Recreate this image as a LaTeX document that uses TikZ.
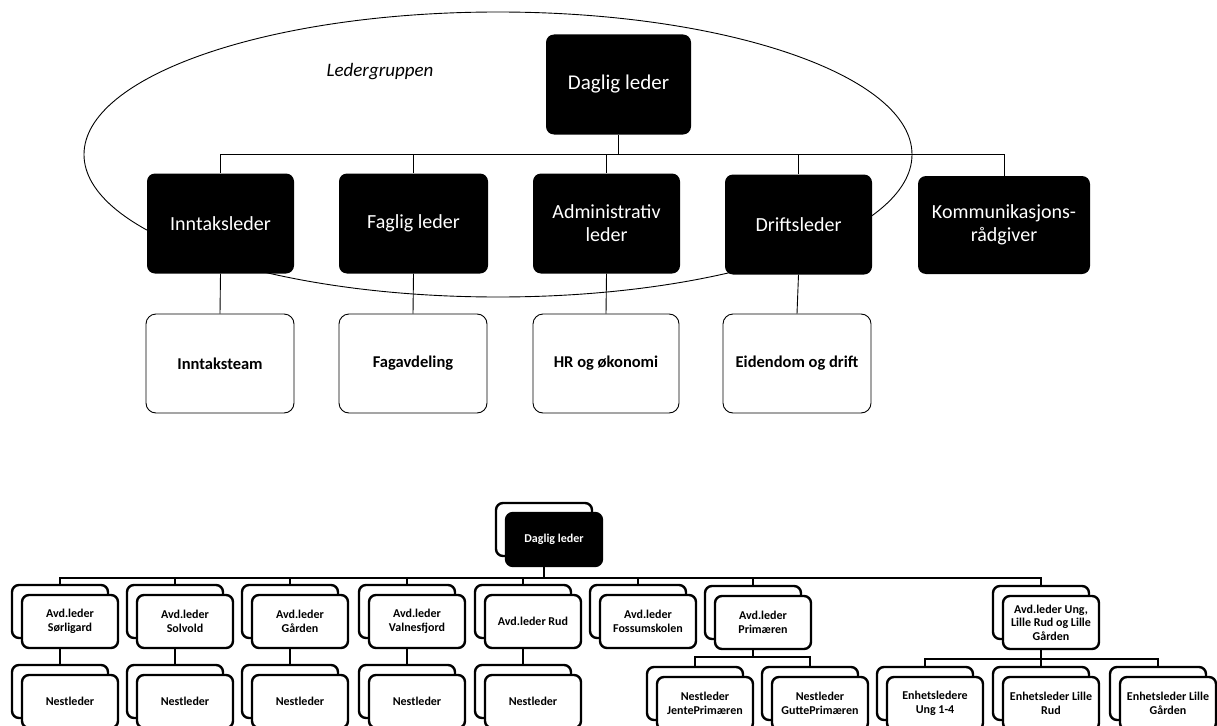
\documentclass[tikz,border=0pt]{standalone}
\usepackage{fontspec}
\setmainfont{Carlito}
\usetikzlibrary{backgrounds}
\begin{document}
\begin{tikzpicture}[x=1pt,y=-1pt,
  topbox/.style={fill=black, text=white, rounded corners=8pt, inner sep=0pt,
    minimum height=100pt, align=center, font=\fontsize{20}{23}\selectfont},
  subbox/.style={draw=black, line width=0.9pt, fill=white, rounded corners=10pt, inner sep=0pt,
    minimum width=148pt, minimum height=99pt, align=center, font=\fontsize{16.5}{19}\selectfont\bfseries},
  thin/.style={line width=0.9pt},
  thick/.style={line width=2.4pt},
  shb/.style={draw=black, line width=2.4pt, fill=white, rounded corners=7pt, inner sep=0pt,
    minimum width=96pt, minimum height=53pt},
  frb/.style={shb, align=center, font=\fontsize{12}{13.5}\selectfont\bfseries},
  frd/.style={frb, fill=black, text=white}
]
\useasboundingbox (0,0) rectangle (1217,725);

% ---------- top chart ----------
\node[topbox, minimum width=145pt, font=\fontsize{21}{24}\selectfont] (dl) at (618.5,84.5) {Daglig leder};
\node[topbox, minimum width=147pt] (in) at (220.5,223.5) {Inntaksleder};
\node[topbox, minimum width=149pt] (fa) at (413.5,223.5) {Faglig leder};
\node[topbox, minimum width=147pt] (ad) at (606.5,223.5) {Administrativ\\leder};
\node[topbox, minimum width=147pt] (dr) at (798.5,224.5) {Driftsleder};
\node[topbox, minimum width=172pt, minimum height=98pt] (ko) at (1004,225) {Kommunikasjons-\\rådgiver};

\node[subbox] (it) at (220,363.5) {Inntaksteam};
\node[subbox] (fv) at (413,363.5) {Fagavdeling};
\node[subbox, minimum width=146pt] (hr) at (606,363.5) {HR og økonomi};
\node[subbox] (ed) at (797,363.5) {Eidendom og drift};

\node[font=\fontsize{19}{22}\selectfont\itshape] (lg) at (380,72) {Ledergruppen};

\coordinate (tbus) at (0,154);

% ---------- bottom chart ----------
\node[shb] (sd) at (544,529.5) {};
\node[frd] (fd) at (554,539.5) {Daglig leder};

% level 1 shadows and fronts
\node[shb] (s1) at (60,611.5) {};
\node[frb] (a1) at (70,621.5) {Avd.leder\\Sørligard};
\node[shb] (s2) at (175,611.5) {};
\node[frb] (a2) at (185,621.5) {Avd.leder\\Solvold};
\node[shb] (s3) at (290,611.5) {};
\node[frb] (a3) at (300,621.5) {Avd.leder\\Gården};
\node[shb] (s4) at (407,611.5) {};
\node[frb] (a4) at (417,621.5) {Avd.leder\\Valnesfjord};
\node[shb] (s5) at (523,611.5) {};
\node[frb] (a5) at (533,621.5) {Avd.leder Rud};
\node[shb] (s6) at (638,611.5) {};
\node[frb] (a6) at (648,621.5) {Avd.leder\\Fossumskolen};
\node[shb] (s7) at (753,612.5) {};
\node[frb] (a7) at (763,622.5) {Avd.leder\\Primæren};
\node[shb] (s8) at (1041,612.5) {};
\node[frb] (a8) at (1051,622.5) {Avd.leder Ung,\\Lille Rud og Lille\\Gården};

% level 2
\node[shb] (n1s) at (60,691.5) {};
\node[frb] (n1) at (70,701.5) {Nestleder};
\node[shb] (n2s) at (175,691.5) {};
\node[frb] (n2) at (185,701.5) {Nestleder};
\node[shb] (n3s) at (290,691.5) {};
\node[frb] (n3) at (300,701.5) {Nestleder};
\node[shb] (n4s) at (407,691.5) {};
\node[frb] (n4) at (417,701.5) {Nestleder};
\node[shb] (n5s) at (523,691.5) {};
\node[frb] (n5) at (533,701.5) {Nestleder};
\node[shb] (p1s) at (695,693.5) {};
\node[frb] (p1) at (705,703.5) {Nestleder\\JentePrimæren};
\node[shb] (p2s) at (810,693.5) {};
\node[frb] (p2) at (820,703.5) {Nestleder\\GuttePrimæren};
\node[shb] (u1s) at (925,693.5) {};
\node[frb] (u1) at (935,703.5) {Enhetsledere\\Ung 1-4};
\node[shb] (u2s) at (1041,693.5) {};
\node[frb] (u2) at (1051,703.5) {Enhetsleder Lille\\Rud};
\node[shb] (u3s) at (1158,693.5) {};
\node[frb] (u3) at (1168,703.5) {Enhetsleder Lille\\Gården};

\coordinate (bus) at (0,578);
\coordinate (pbus) at (0,657);
\coordinate (ubus) at (0,659);

\begin{scope}[on background layer]
  \fill[white] (0,0) rectangle (1217,725);
  \draw[thin] (498,154.5) ellipse [x radius=414pt, y radius=142.5pt];
  % top connectors
  \draw[thin] (dl.south) -- (dl.south |- tbus);
  \foreach \n in {in,fa,ad,dr,ko} {
    \draw[thin] (dl.south |- tbus) -| (\n.north);
  }
  \draw[thin] (in.south) -- (it.north);
  \draw[thin] (fa.south) -- (fv.north);
  \draw[thin] (ad.south) -- (hr.north);
  \draw[thin] (dr.south) -- (ed.north);
  % bottom connectors
  \draw[thick] (sd.south) -- (sd.south |- bus);
  \foreach \n in {s1,s2,s3,s4,s5,s6,s7,s8} {
    \draw[thick] (sd.south |- bus) -| (\n.north);
  }
  \draw[thick] (s1.south) -- (n1s.north);
  \draw[thick] (s2.south) -- (n2s.north);
  \draw[thick] (s3.south) -- (n3s.north);
  \draw[thick] (s4.south) -- (n4s.north);
  \draw[thick] (s5.south) -- (n5s.north);
  \draw[thick] (s7.south) -- (s7.south |- pbus);
  \draw[thick] (s7.south |- pbus) -| (p1s.north);
  \draw[thick] (s7.south |- pbus) -| (p2s.north);
  \draw[thick] (s8.south) -- (s8.south |- ubus);
  \draw[thick] (s8.south |- ubus) -| (u1s.north);
  \draw[thick] (s8.south |- ubus) -| (u2s.north);
  \draw[thick] (s8.south |- ubus) -| (u3s.north);
\end{scope}
\end{tikzpicture}
\end{document}
